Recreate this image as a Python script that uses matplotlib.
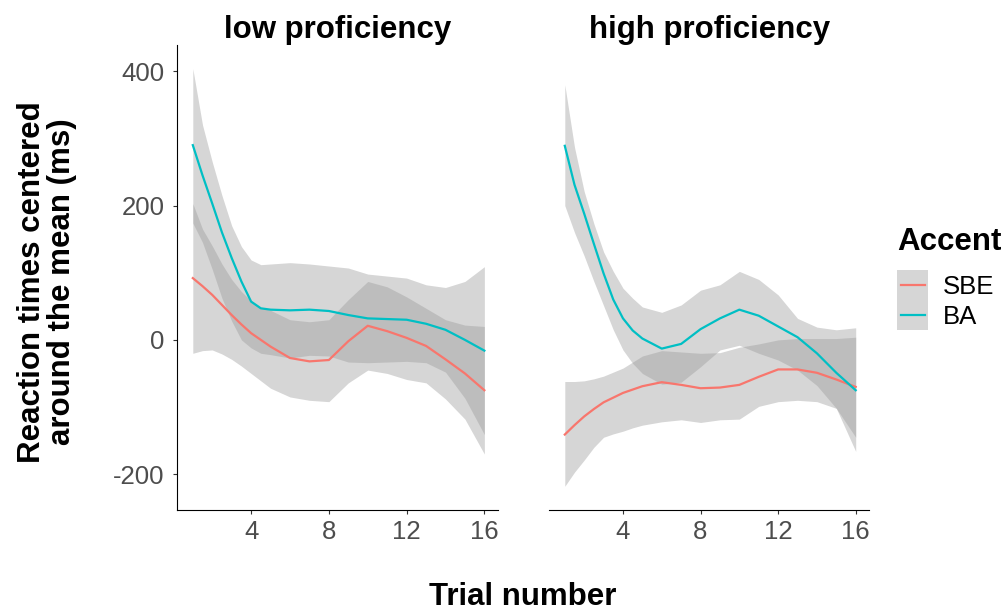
import matplotlib
matplotlib.use('Agg')
import matplotlib.pyplot as plt
from matplotlib.patches import Rectangle
from matplotlib.lines import Line2D

plt.rcParams['font.family'] = ['Liberation Sans', 'DejaVu Sans']
plt.rcParams['axes.unicode_minus'] = False

# trial positions the curves were read at (half steps where the curves bend fast)
trials = [1, 1.5, 2, 2.5, 3, 3.5, 4, 4.5, 5, 6, 7, 8, 9, 10, 11, 12, 13, 14, 15, 16]
x_ticks = [4, 8, 12, 16]
y_ticks = [-200, 0, 200, 400]
panel_titles = ['low proficiency', 'high proficiency']
accents = ['SBE', 'BA']
accent_colors = ['#F8766D', '#00BFC4']

# low proficiency: smoothed fit and confidence band per accent
low_sbe_fit = [92, 80, 67, 52, 37, 23, 10, 0, -10, -27, -32, -30, -2, 21, 13, 3, -9, -29, -50, -75]
low_sbe_upper = [203, 165, 140, 113, 90, 72, 58, 48, 44, 30, 27, 30, 60, 87, 79, 64, 47, 30, 22, 20]
low_sbe_lower = [-20, -16, -15, -21, -29, -39, -50, -61, -72, -85, -90, -92, -64, -45, -50, -59, -64, -88, -118, -170]
low_ba_fit = [290, 245, 203, 160, 122, 87, 57, 47, 45, 44, 45, 43, 37, 32, 31, 30, 24, 15, 0, -16]
low_ba_upper = [404, 320, 265, 215, 170, 139, 119, 112, 113, 115, 113, 110, 107, 98, 95, 92, 82, 78, 87, 109]
low_ba_lower = [174, 145, 105, 62, 28, 0, -12, -20, -22, -27, -23, -24, -33, -34, -33, -32, -34, -48, -87, -141]

# high proficiency
high_sbe_fit = [-141, -127, -114, -103, -93, -86, -79, -74, -69, -63, -67, -72, -71, -67, -55, -44, -44, -49, -59, -70]
high_sbe_upper = [-62, -62, -61, -58, -54, -48, -42, -33, -24, -16, -18, -20, -19, -11, -6, 0, 2, 2, 2, 4]
high_sbe_lower = [-218, -197, -179, -160, -145, -140, -136, -131, -127, -122, -119, -123, -119, -118, -99, -92, -90, -92, -102, -166]
high_ba_fit = [289, 231, 188, 143, 99, 60, 32, 14, 2, -13, -6, 16, 32, 45, 36, 20, 4, -20, -49, -75]
high_ba_upper = [380, 287, 221, 173, 131, 102, 77, 62, 49, 41, 52, 74, 82, 102, 90, 67, 32, 19, 15, 18]
high_ba_lower = [200, 160, 125, 87, 51, 15, -15, -35, -50, -66, -63, -40, -15, -8, -20, -30, -45, -68, -102, -145]

panels = [
    [(low_sbe_fit, low_sbe_lower, low_sbe_upper), (low_ba_fit, low_ba_lower, low_ba_upper)],
    [(high_sbe_fit, high_sbe_lower, high_sbe_upper), (high_ba_fit, high_ba_lower, high_ba_upper)],
]

fig = plt.figure(figsize=(10.06, 6.10), dpi=100)
ax_left = fig.add_axes([0.1762, 0.1632, 0.3188, 0.7629])
ax_right = fig.add_axes([0.5460, 0.1632, 0.3181, 0.7629])

for ax, title, groups in zip([ax_left, ax_right], panel_titles, panels):
    # ggplot draws ribbon then line for each group, SBE first
    for (fit, lower, upper), color in zip(groups, accent_colors):
        ax.fill_between(trials, lower, upper, color='#999999', alpha=0.4, linewidth=0)
        ax.plot(trials, fit, color=color, linewidth=1.6)
    ax.set_xlim(0.2, 16.7)
    ax.set_ylim(-254, 439)
    ax.set_xticks(x_ticks)
    ax.set_yticks(y_ticks)
    ax.set_title(title, fontsize=22.5, fontweight='bold', pad=5)
    for side in ['top', 'right']:
        ax.spines[side].set_visible(False)
    for side in ['left', 'bottom']:
        ax.spines[side].set_linewidth(0.8)
        ax.spines[side].set_color('black')
    ax.tick_params(axis='both', length=3, width=0.8, color='#333333',
                   labelsize=18.5, labelcolor='#4D4D4D')
    ax.tick_params(axis='x', pad=4)
    ax.tick_params(axis='y', pad=6)

ax_right.spines['left'].set_visible(False)
ax_right.tick_params(axis='y', left=False, labelleft=False)

fig.text(523 / 1006, 1 - 597 / 610, 'Trial number', fontsize=22.5, fontweight='bold',
         ha='center', va='center')
fig.text(47 / 1006, 1 - 282 / 610, 'Reaction times centered\naround the mean (ms)',
         fontsize=22.5, fontweight='bold', rotation=90, ha='center', va='center',
         multialignment='center', linespacing=1.0)

# legend, laid out like ggplot's: grey key boxes with the line on top
W, H = 1006, 610
fig.text(897 / W, 1 - 242 / H, 'Accent', fontsize=22.5, fontweight='bold',
         ha='left', va='center')
key_top = 270
key_h = 30
for i, (label, color) in enumerate(zip(accents, accent_colors)):
    y0 = key_top + i * key_h
    fig.patches.append(Rectangle((897 / W, 1 - (y0 + key_h) / H), 31 / W, key_h / H,
                                 transform=fig.transFigure, facecolor='#999999',
                                 alpha=0.4, edgecolor='none'))
    yc = 1 - (y0 + key_h / 2) / H
    fig.lines.append(Line2D([901 / W, 925 / W], [yc, yc], transform=fig.transFigure,
                            color=color, linewidth=1.6))
    fig.text(943 / W, yc, label, fontsize=18.5, ha='left', va='center_baseline')

fig.savefig('out.png', dpi=100)
